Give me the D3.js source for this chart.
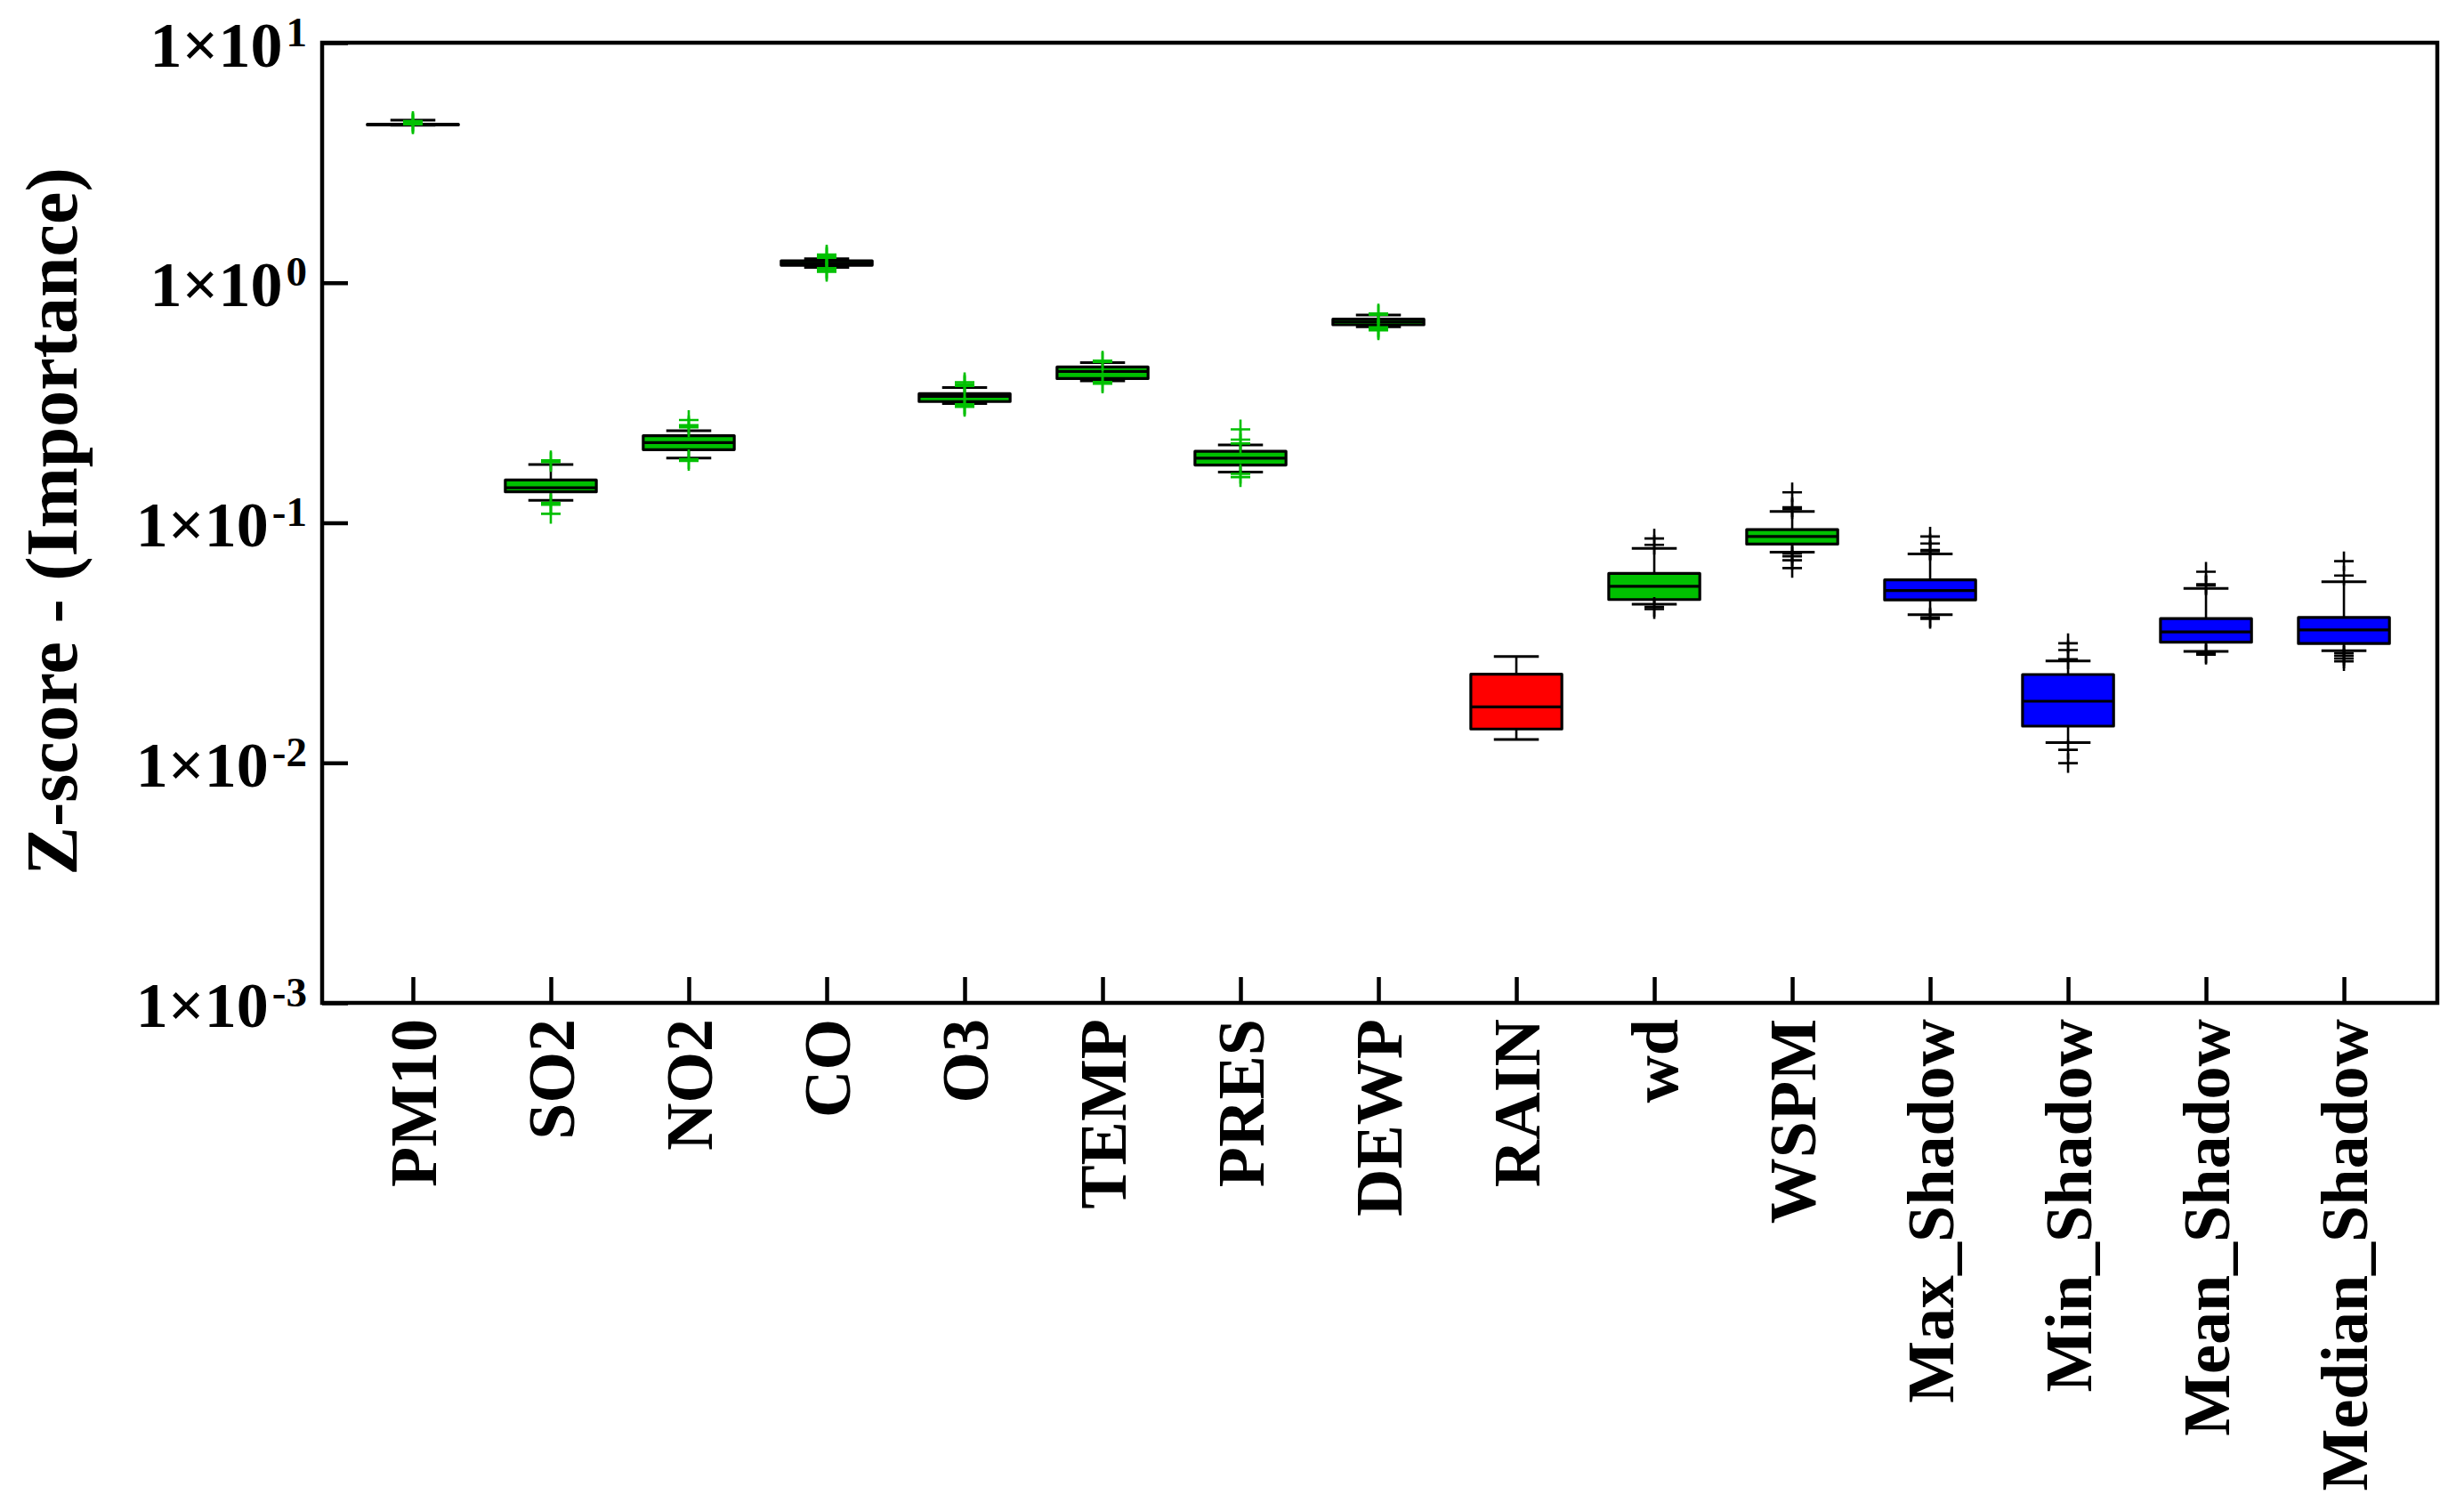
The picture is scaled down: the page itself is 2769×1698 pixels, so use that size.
<!DOCTYPE html>
<html><head><meta charset="utf-8">
<script src="https://cdn.jsdelivr.net/npm/d3@7"></script>
<style>body{margin:0;background:#fff}svg{display:block}</style>
</head><body>
<svg id="chart" width="2769" height="1698"></svg>
<script>
// ---------------- data ----------------
const categories = ["PM10","SO2","NO2","CO","O3","TEMP","PRES","DEWP","RAIN","wd","WSPM","Max_Shadow","Min_Shadow","Mean_Shadow","Median_Shadow"];
const decision   = ["Confirmed","Confirmed","Confirmed","Confirmed","Confirmed","Confirmed","Confirmed","Confirmed","Rejected","Confirmed","Confirmed","Shadow","Shadow","Shadow","Shadow"];
const whiskerLow  = [4.53, 0.124, 0.186, 1.159, 0.314, 0.390, 0.1626, 0.656, 0.01252, 0.0458, 0.0755, 0.0414, 0.01214, 0.0291, 0.0293];
const q1          = [4.54, 0.1346, 0.2017, 1.183, 0.320, 0.399, 0.174, 0.668, 0.01383, 0.0479, 0.0815, 0.0477, 0.01422, 0.0318, 0.0314];
const medians     = [4.56, 0.140, 0.216, 1.206, 0.336, 0.4275, 0.186, 0.687, 0.01711, 0.0544, 0.0877, 0.0522, 0.01806, 0.0351, 0.0358];
const q3          = [4.58, 0.1507, 0.2307, 1.234, 0.345, 0.4457, 0.1985, 0.705, 0.02339, 0.0615, 0.0937, 0.0578, 0.02333, 0.0399, 0.0403];
const whiskerHigh = [4.76, 0.175, 0.242, 1.26, 0.366, 0.465, 0.211, 0.734, 0.02773, 0.0783, 0.1115, 0.0742, 0.0266, 0.0533, 0.0568];
const outliers = [
  [4.72, 4.66, 4.62, 4.57],
  [0.182, 0.179, 0.121, 0.119, 0.109],
  [0.268, 0.255, 0.250, 0.184, 0.181],
  [1.31, 1.29, 1.27, 1.15, 1.13, 1.11],
  [0.385, 0.378, 0.372, 0.312, 0.308, 0.304],
  [0.474, 0.468, 0.386, 0.380],
  [0.245, 0.222, 0.214, 0.160, 0.155],
  [0.745, 0.735, 0.652, 0.642, 0.634],
  [],
  [0.086, 0.081, 0.0446, 0.0437],
  [0.134, 0.116, 0.114, 0.0745, 0.0725, 0.0698, 0.0648],
  [0.0877, 0.082, 0.077, 0.0762, 0.0404, 0.0398],
  [0.0315, 0.0295, 0.027, 0.01133, 0.00997],
  [0.0625, 0.0555, 0.0548, 0.0286, 0.0282],
  [0.0692, 0.0603, 0.0286, 0.0279, 0.0272, 0.0265]
];
const yTicks = [10, 1, 0.1, 0.01, 0.001];
const yTickMantissa = "1×10";
const yTickExponents = ["1", "0", "-1", "-2", "-3"];
const yTitle = "Z-score - (Importance)";

// ---------------- layout / style ----------------
const W = 2769, H = 1698;
const plot = {left: 362, right: 2739, top: 48, bottom: 1127};
const fontFam = "'Liberation Serif','Times New Roman',Times,serif";
const fillColor = {Confirmed: "#00C000", Rejected: "#FF0000", Shadow: "#0000FF"};
const greenOutlierCats = new Set(categories.slice(0, 8));

const svg = d3.select("#chart");
svg.append("rect").attr("width", W).attr("height", H).attr("fill", "#fff");

const x = d3.scaleLinear().domain([0.342, 15.677]).range([plot.left, plot.right]);
const y = d3.scaleLog().domain([1e-3, 10]).range([plot.bottom, plot.top]);

const boxHalf = x(1.33) - x(1);
const capHalf = x(1.163) - x(1);
const plusHalf = 11;

// boxes
const g = svg.append("g");
categories.forEach((c, i) => {
  const cx = x(i + 1);
  const bg = g.append("g");
  // whiskers
  bg.append("line").attr("x1", cx).attr("x2", cx).attr("y1", y(q3[i])).attr("y2", y(whiskerHigh[i]))
    .attr("stroke", "#000").attr("stroke-width", 2.6);
  bg.append("line").attr("x1", cx).attr("x2", cx).attr("y1", y(q1[i])).attr("y2", y(whiskerLow[i]))
    .attr("stroke", "#000").attr("stroke-width", 2.6);
  // caps
  [whiskerHigh[i], whiskerLow[i]].forEach(v => {
    bg.append("line").attr("x1", cx - capHalf).attr("x2", cx + capHalf).attr("y1", y(v)).attr("y2", y(v))
      .attr("stroke", "#000").attr("stroke-width", 3);
  });
  // box
  bg.append("rect").attr("x", cx - boxHalf).attr("width", 2 * boxHalf)
    .attr("y", y(q3[i])).attr("height", Math.max(0.5, y(q1[i]) - y(q3[i])))
    .attr("fill", fillColor[decision[i]]).attr("stroke", "#000").attr("stroke-width", 3.2)
    .attr("stroke-linejoin", "round");
  // median
  bg.append("line").attr("x1", cx - boxHalf).attr("x2", cx + boxHalf).attr("y1", y(medians[i])).attr("y2", y(medians[i]))
    .attr("stroke", "#000").attr("stroke-width", 3.2);
  // outliers
  const oc = greenOutlierCats.has(c) ? "#00C000" : "#000";
  outliers[i].forEach(v => {
    const oy = y(v);
    bg.append("path")
      .attr("d", `M${cx - plusHalf},${oy}H${cx + plusHalf}M${cx},${oy - plusHalf}V${oy + plusHalf}`)
      .attr("stroke", oc).attr("stroke-width", 2.6).attr("fill", "none");
  });
});

// axes
const xAxis = d3.axisBottom(x).tickValues(categories.map((d, i) => i + 1))
  .tickSizeInner(-29).tickSizeOuter(0).tickFormat((d, i) => categories[i]);
const gx = svg.append("g").attr("transform", `translate(0,${plot.bottom})`).call(xAxis);
gx.select(".domain").remove();
gx.selectAll(".tick line").attr("stroke", "#000").attr("stroke-width", 4.5);
gx.selectAll(".tick text")
  .attr("transform", "rotate(-90)")
  .attr("text-anchor", "end")
  .attr("x", -18).attr("y", 0).attr("dy", "0.34em")
  .attr("fill", "#000")
  .style("font-family", fontFam).style("font-weight", "bold").style("font-size", "74px");

const yAxis = d3.axisLeft(y).tickValues(yTicks).tickSizeInner(-29).tickSizeOuter(0).tickFormat("");
const gy = svg.append("g").attr("transform", `translate(${plot.left},0)`).call(yAxis);
gy.select(".domain").remove();
gy.selectAll(".tick line").attr("stroke", "#000").attr("stroke-width", 4.5);
gy.selectAll(".tick text").each(function(d, i) {
  const t = d3.select(this);
  t.text(null)
    .attr("x", -17).attr("dy", null).attr("y", 26)
    .attr("text-anchor", "end").attr("fill", "#000")
    .style("font-family", fontFam).style("font-weight", "bold").style("font-size", "72px");
  t.append("tspan").text(yTickMantissa);
  t.append("tspan").attr("dx", 4).attr("dy", -23).style("font-size", "47px").text(yTickExponents[i]);
});

// frame
svg.append("rect").attr("x", plot.left).attr("y", plot.top)
  .attr("width", plot.right - plot.left).attr("height", plot.bottom - plot.top)
  .attr("fill", "none").attr("stroke", "#000").attr("stroke-width", 4.5);

// y title
svg.append("text")
  .attr("transform", `translate(86,586) rotate(-90)`)
  .attr("text-anchor", "middle")
  .style("font-family", fontFam).style("font-weight", "bold").style("font-size", "82px")
  .attr("fill", "#000")
  .text(yTitle);
</script>
</body></html>
